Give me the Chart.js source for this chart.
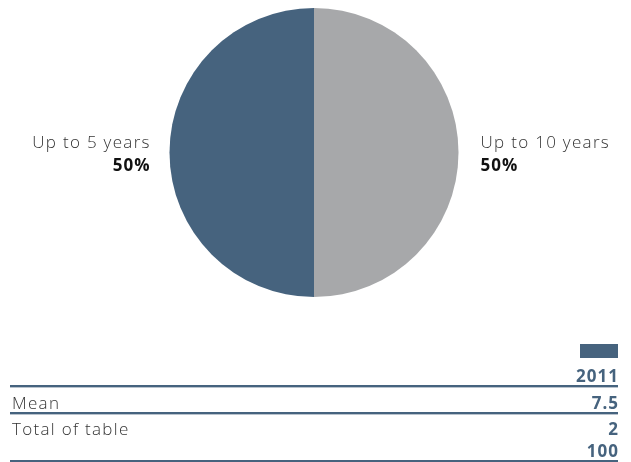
<!DOCTYPE html>
<html>
<head>
<meta charset="utf-8">
<script src="https://cdn.jsdelivr.net/npm/chart.js@4"></script>
<style>
html,body{margin:0;padding:0;background:#fff;}
#wrap{position:relative;width:631px;height:462px;}
</style>
</head>
<body>
<div id="wrap"><canvas id="c" width="631" height="462"></canvas></div>
<script>
const categories = ['Up to 10 years', 'Up to 5 years'];
const values = [50, 50];
const percentLabels = ['50%', '50%'];
const sliceColors = ['#a7a8aa', '#46637e'];
const tableYear = '2011';
const tableRowLabels = ['Mean', 'Total of table'];
const tableRowValues = [['7.5'], ['2', '100']];

const FONT = '"Open Sans", Lato, sans-serif';
const BLUE = '#46637e';
const LIGHT_SP = 1.3, BOLD_SP = 1.0;

function txt(ctx, s, x, y, align, weight, color, sp) {
  ctx.font = weight + ' 17px ' + FONT;
  ctx.fillStyle = color;
  ctx.textAlign = align;
  ctx.letterSpacing = sp + 'px';
  ctx.fillText(s, align === 'right' ? x + sp : x, y);
  ctx.letterSpacing = '0px';
}

const overlay = {
  id: 'overlay',
  afterDraw(chart) {
    const ctx = chart.ctx;
    const meta = chart.getDatasetMeta(0);
    const arc0 = meta.data[0];
    const cx = arc0.x, cy = arc0.y, r = arc0.outerRadius;
    ctx.save();
    ctx.textBaseline = 'alphabetic';
    meta.data.forEach((arc, i) => {
      const mid = (arc.startAngle + arc.endAngle) / 2;
      const right = Math.cos(mid) > 0;
      const x = right ? cx + r + 22 : cx - r - 20;
      const al = right ? 'left' : 'right';
      txt(ctx, categories[i], x, cy - 5, al, '300', '#333333', LIGHT_SP);
      txt(ctx, percentLabels[i], x, cy + 18, al, '700', '#111111', BOLD_SP);
    });
    const left = 10, rightX = 618;
    ctx.fillStyle = BLUE;
    ctx.fillRect(580, 344, 38, 14);
    txt(ctx, tableYear, rightX, 382, 'right', '700', BLUE, BOLD_SP);
    function rule(y) {
      ctx.fillStyle = BLUE;
      ctx.fillRect(left, y, rightX - left, 2);
      ctx.fillStyle = '#b9c3cd';
      ctx.fillRect(left, y + 2, rightX - left, 1);
    }
    rule(385);
    let y = 409;
    tableRowLabels.forEach((lab, i) => {
      txt(ctx, lab, 12, y, 'left', '300', '#333333', LIGHT_SP);
      tableRowValues[i].forEach((v, j) => {
        txt(ctx, v, rightX, y + j * 22, 'right', '700', BLUE, BOLD_SP);
      });
      const bottom = y + (tableRowValues[i].length - 1) * 22;
      rule(bottom + 3);
      y = bottom + 26;
    });
    ctx.restore();
  }
};

new Chart(document.getElementById('c'), {
  type: 'pie',
  data: {
    labels: categories,
    datasets: [{
      data: values,
      backgroundColor: sliceColors,
      borderWidth: 0
    }]
  },
  options: {
    responsive: false,
    animation: false,
    layout: { padding: { top: 8, bottom: 165, left: 0, right: 3 } },
    plugins: { legend: { display: false }, tooltip: { enabled: false } }
  },
  plugins: [overlay]
});
</script>
</body>
</html>
